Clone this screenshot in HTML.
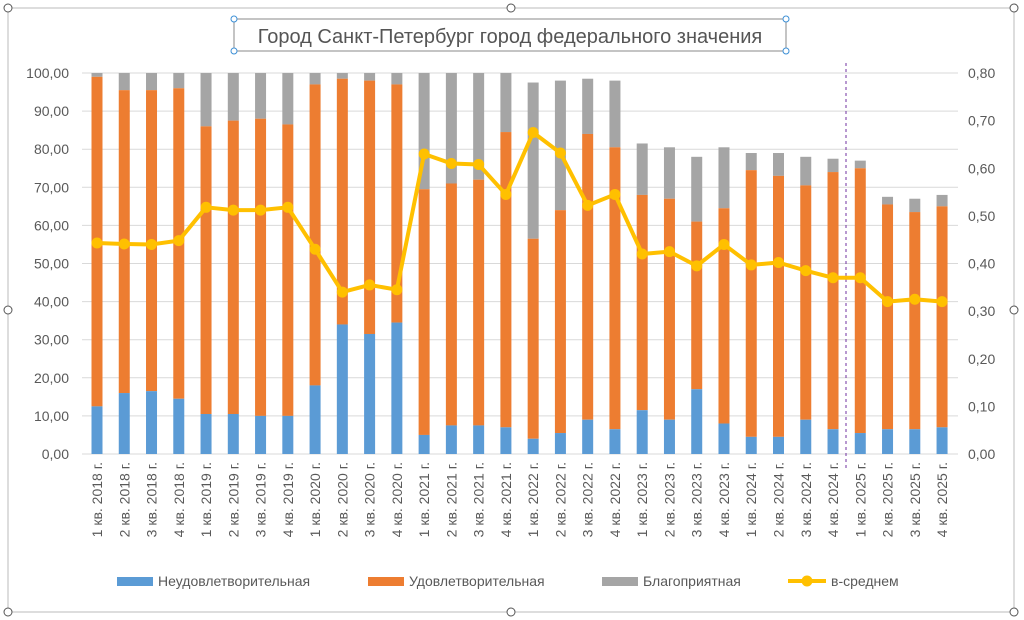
<!DOCTYPE html><html><head><meta charset="utf-8"><style>body{margin:0;background:#fff}svg{display:block;font-family:"Liberation Sans",sans-serif}</style></head><body>
<svg id="s" width="1024" height="620" xmlns="http://www.w3.org/2000/svg"></svg>
<script>
const d=[[12.5,99,100,.443],[16,95.5,100,.441],[16.5,95.5,100,.44],[14.5,96,100,.448],[10.5,86,100,.518],[10.5,87.5,100,.512],[10,88,100,.512],[10,86.5,100,.518],[18,97,100,.43],[34,98.5,100,.34],[31.5,98,100,.355],[34.5,97,100,.345],[5,69.5,100,.63],[7.5,71,100,.61],[7.5,72,100,.608],[7,84.5,100,.545],[4,56.5,97.5,.675],[5.5,64,98,.632],[9,84,98.5,.522],[6.5,80.5,98,.545],[11.5,68,81.5,.42],[9,67,80.5,.425],[17,61,78,.395],[8,64.5,80.5,.44],[4.5,74.5,79,.397],[4.5,73,79,.402],[9,70.5,78,.385],[6.5,74,77.5,.37],[5.5,75,77,.37],[6.5,65.5,67.5,.32],[6.5,63.5,67,.325],[7,65,68,.32]];
const T=73,B=454,H=B-T,y=v=>B-v/100*H,yr=v=>B-v/0.8*H;
let s='<rect x="8" y="8" width="1006" height="604" fill="none" stroke="#bbb"/>';
[[8,8],[511,8],[1014,8],[8,310],[1014,310],[8,612],[511,612],[1014,612]].forEach(p=>s+=`<circle cx="${p[0]}" cy="${p[1]}" r="4" fill="#fff" stroke="#555"/>`);
s+='<rect x="234" y="19" width="552" height="32" fill="#fff" stroke="#888"/>';
[[234,19],[786,19],[234,51],[786,51]].forEach(p=>s+=`<circle cx="${p[0]}" cy="${p[1]}" r="3" fill="#fff" stroke="#3c8fd6"/>`);
s+='<text x="510" y="43" font-size="20" fill="#555" text-anchor="middle">Город Санкт-Петербург город федерального значения</text>';
for(let i=0;i<=10;i++){const yy=y(i*10);s+=`<line x1="82" x2="958" y1="${yy}" y2="${yy}" stroke="#d9d9d9"/><text x="69" y="${yy+5}" font-size="14" fill="#595959" text-anchor="end">${i*10},00</text>`}
for(let i=0;i<=8;i++){const yy=yr(i/10);s+=`<text x="968" y="${yy+5}" font-size="14" fill="#595959">0,${i}0</text>`}
let pts=[];
d.forEach((r,i)=>{const x=97+i*27.26,w=11,L=x-w/2;
s+=`<rect x="${L}" y="${y(r[2])}" width="${w}" height="${y(r[1])-y(r[2])}" fill="#a5a5a5"/><rect x="${L}" y="${y(r[1])}" width="${w}" height="${y(r[0])-y(r[1])}" fill="#ed7d31"/><rect x="${L}" y="${y(r[0])}" width="${w}" height="${B-y(r[0])}" fill="#5b9bd5"/>`;
const yr_=2018+Math.floor(i/4);
s+=`<text transform="translate(${x+5},462) rotate(-90)" font-size="14" fill="#595959" text-anchor="end">${i%4+1} кв. ${yr_} г.</text>`;
pts.push([x,yr(r[3])]);});
s+='<line x1="846" x2="846" y1="63" y2="470" stroke="#7030a0" stroke-dasharray="3,3" stroke-width="1"/>';
s+=`<polyline points="${pts.map(p=>p.join(',')).join(' ')}" fill="none" stroke="#ffc000" stroke-width="4" stroke-linejoin="round"/>`;
pts.forEach(p=>s+=`<circle cx="${p[0]}" cy="${p[1]}" r="5.5" fill="#ffc000"/>`);
s+='<rect x="117" y="577" width="36" height="9" fill="#5b9bd5"/><text x="158" y="586" font-size="14" fill="#595959">Неудовлетворительная</text>';
s+='<rect x="368" y="577" width="36" height="9" fill="#ed7d31"/><text x="409" y="586" font-size="14" fill="#595959">Удовлетворительная</text>';
s+='<rect x="602" y="577" width="36" height="9" fill="#a5a5a5"/><text x="643" y="586" font-size="14" fill="#595959">Благоприятная</text>';
s+='<line x1="788" x2="826" y1="581" y2="581" stroke="#ffc000" stroke-width="4"/><circle cx="807" cy="581" r="5.5" fill="#ffc000"/><text x="831" y="586" font-size="14" fill="#595959">в-среднем</text>';
document.getElementById('s').innerHTML=s;
</script></body></html>
